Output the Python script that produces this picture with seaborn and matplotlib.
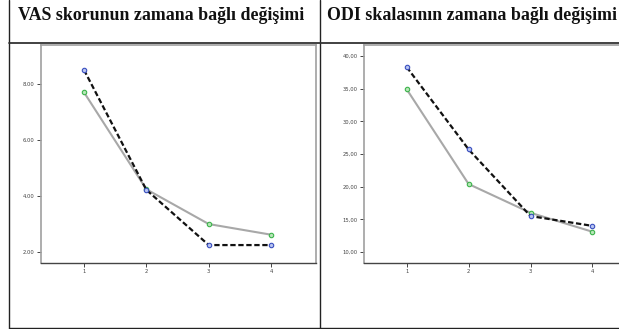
import numpy as np
import pandas as pd
import matplotlib
matplotlib.use("Agg")
import matplotlib.pyplot as plt
import seaborn as sns
from matplotlib.lines import Line2D

# Datos (tiempo 1-4)
tiempo = [1, 2, 3, 4]
vas_grupo1 = [8.50, 4.22, 2.25, 2.25]
vas_grupo2 = [7.70, 4.24, 3.00, 2.62]
odi_grupo1 = [38.3, 25.7, 15.5, 14.0]
odi_grupo2 = [34.9, 20.4, 16.0, 13.1]

vas_ticks = [2, 4, 6, 8]
vas_labels = ["2.00", "4.00", "6.00", "8.00"]
odi_ticks = [10, 15, 20, 25, 30, 35, 40]
odi_labels = ["10,00", "15,00", "20,00", "25,00", "30,00", "35,00", "40,00"]

titulo_vas = "VAS skorunun zamana bağlı değişimi"
titulo_odi = "ODI skalasının zamana bağlı değişimi"

sns.set_style("white")

W, H = 619, 329
fig = plt.figure(figsize=(W / 100, H / 100), dpi=100)


def px_axes(x0, y0, x1, y1):
    return fig.add_axes([x0 / W, 1 - y1 / H, (x1 - x0) / W, (y1 - y0) / H])


def dibujar(ax, g1, g2, ticks, labels, ylim):
    df = pd.DataFrame({"tiempo": tiempo, "g1": g1, "g2": g2})
    sns.lineplot(data=df, x="tiempo", y="g2", ax=ax, color="#a8a8a8", linewidth=1.5,
                 marker="o", markersize=3.2, markerfacecolor="#b8e6b8",
                 markeredgecolor="#3cb44b", markeredgewidth=0.8)
    sns.lineplot(data=df, x="tiempo", y="g1", ax=ax, color="#111111", linewidth=1.6,
                 marker="o", markersize=3.2, markerfacecolor="#b8c4f0",
                 markeredgecolor="#3a4fc0", markeredgewidth=0.8)
    ax.lines[-1].set_dashes([2.4, 1.2])
    ax.set_xlim(0.31, 4.72)
    ax.set_ylim(*ylim)
    ax.set_xticks(tiempo)
    ax.set_xticklabels([str(t) for t in tiempo])
    ax.set_yticks(ticks)
    ax.set_yticklabels(labels)
    ax.set_xlabel("")
    ax.set_ylabel("")
    ax.tick_params(axis="both", length=3, width=0.7, pad=1.5, labelsize=3.8,
                   colors="#444444", direction="out", left=True, bottom=True)
    for s in ["top", "right", "left"]:
        ax.spines[s].set_color("#a0a0a0")
        ax.spines[s].set_linewidth(1.2)
    ax.spines["bottom"].set_color("#444444")
    ax.spines["bottom"].set_linewidth(1.0)
    ax.grid(False)


ax1 = px_axes(41, 45, 316, 263)
dibujar(ax1, vas_grupo1, vas_grupo2, vas_ticks, vas_labels, (1.61, 9.39))

ax2 = px_axes(364, 45, 637, 263)
dibujar(ax2, odi_grupo1, odi_grupo2, odi_ticks, odi_labels, (8.32, 41.68))

# Bordes de la tabla
def linea(x0, y0, x1, y1, color="#222222", lw=1.0):
    fig.add_artist(Line2D([x0 / W, x1 / W], [1 - y0 / H, 1 - y1 / H],
                          transform=fig.transFigure, color=color, linewidth=lw))

linea(9, 0, 9, 328)
linea(320, 0, 320, 328)
linea(9, 43, W, 43, color="#333333", lw=1.3)
linea(9, 328, W, 328)

fig.text(18 / W, 1 - 16 / H, titulo_vas, family="Liberation Serif", weight="bold",
         fontsize=12.9, ha="left", va="center", color="#111111")
fig.text(327 / W, 1 - 16 / H, titulo_odi, family="Liberation Serif", weight="bold",
         fontsize=12.9, ha="left", va="center", color="#111111")

fig.savefig("out.png", dpi=100)
